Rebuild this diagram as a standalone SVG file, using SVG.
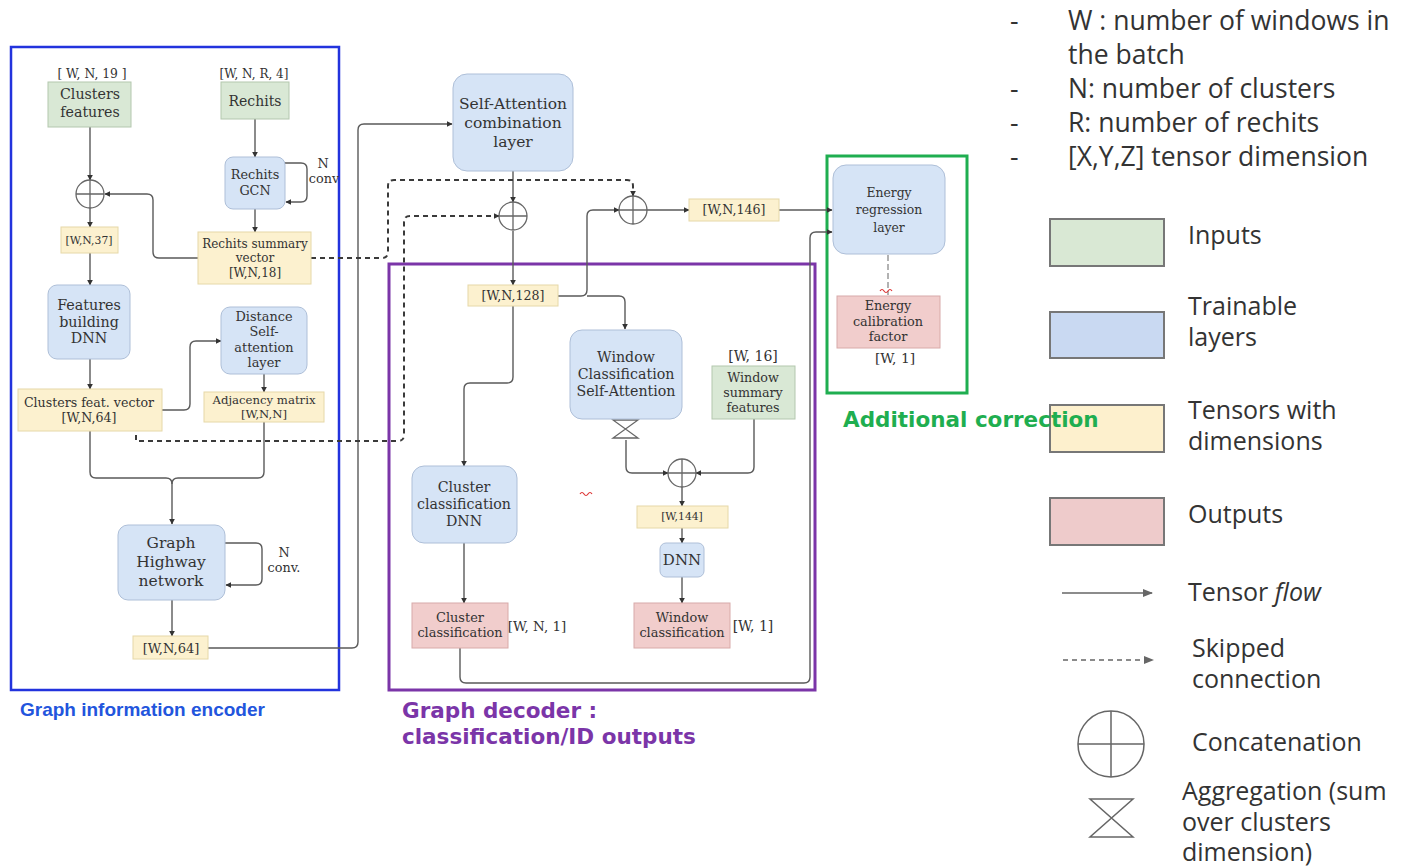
<svg xmlns="http://www.w3.org/2000/svg" width="1403" height="866" viewBox="0 0 1403 866">
<defs>
<marker id="ar" viewBox="0 0 10 10" refX="9" refY="5" markerWidth="6" markerHeight="6" markerUnits="userSpaceOnUse" orient="auto"><path d="M0 0L10 5L0 10Z" fill="#333"/></marker>
<marker id="arl" viewBox="0 0 10 10" refX="9" refY="5" markerWidth="10" markerHeight="10" markerUnits="userSpaceOnUse" orient="auto"><path d="M0 1L10 5L0 9Z" fill="#666"/></marker>
</defs>
<style>
.t{font-family:"DejaVu Serif",serif;fill:#333;text-anchor:middle}
.g{fill:#d9e8d5;stroke:#b3c7ae;stroke-width:1}
.b{fill:#d6e4f6;stroke:#aebfd8;stroke-width:1}
.y{fill:#fcf1cf;stroke:#e6d8a8;stroke-width:1}
.p{fill:#f1cdcc;stroke:#d8aaa9;stroke-width:1}
.c{fill:none;stroke:#5a5a5a;stroke-width:1.4}
.d{fill:none;stroke:#3a3a3a;stroke-width:2;stroke-dasharray:5 4}
.cat{fill:#fff;stroke:#666;stroke-width:1.3}
.L{font-family:"Open Sans","Noto Sans",sans-serif;fill:#333;font-size:25px}
.LT{font-family:"Open Sans","Noto Sans",sans-serif;fill:#333;font-size:26.5px}
.lb{stroke:#777;stroke-width:2}
</style>
<rect width="1403" height="866" fill="#fff"/>

<!-- group frames -->
<g id="encoder-frame">
<rect x="11" y="47" width="328" height="643" fill="none" stroke="#2233dd" stroke-width="2.5"/>
<text x="20" y="716" font-family="Liberation Sans,Arial,sans-serif" font-weight="bold" font-size="19" fill="#2255dd">Graph information encoder</text>
</g>
<g id="decoder-frame">
<rect x="389" y="264" width="426" height="426" fill="none" stroke="#7b35a8" stroke-width="3"/>
<text x="402" y="718" font-family="DejaVu Sans,sans-serif" font-weight="bold" font-size="21.5" fill="#7b35a8">Graph decoder :</text>
<text x="402" y="744" font-family="DejaVu Sans,sans-serif" font-weight="bold" font-size="21.5" fill="#7b35a8">classification/ID outputs</text>
</g>
<g id="correction-frame">
<rect x="827" y="156" width="140" height="237" fill="none" stroke="#1fae50" stroke-width="3"/>
</g>

<!-- connectors -->
<g id="connectors">
<path class="c" d="M90 127V180" marker-end="url(#ar)"/>
<path class="c" d="M90 208V227" marker-end="url(#ar)"/>
<path class="c" d="M90 253V285" marker-end="url(#ar)"/>
<path class="c" d="M90 359V389" marker-end="url(#ar)"/>
<path class="c" d="M255 119V157" marker-end="url(#ar)"/>
<path class="c" d="M255 209V232" marker-end="url(#ar)"/>
<path class="c" d="M285 163H301Q307 163 307 169V196Q307 202 301 202H286" marker-end="url(#ar)"/>
<path class="c" d="M198 258H159Q153 258 153 252V200Q153 194 147 194H105" marker-end="url(#ar)"/>
<path class="c" d="M162 410H184Q190 410 190 404V347Q190 341 196 341H221" marker-end="url(#ar)"/>
<path class="c" d="M264 374V392" marker-end="url(#ar)"/>
<path class="c" d="M90 431V472Q90 478 96 478H166Q172 478 172 484V524" marker-end="url(#ar)"/>
<path class="c" d="M264 422V472Q264 478 258 478H178Q172 478 172 484"/>
<path class="c" d="M225 543H256Q262 543 262 549V579Q262 585 256 585H226" marker-end="url(#ar)"/>
<path class="c" d="M172 600V636" marker-end="url(#ar)"/>
<path class="c" d="M208 648H352Q358 648 358 642V130Q358 124 364 124H452" marker-end="url(#ar)"/>
<path class="c" d="M513 171V202" marker-end="url(#ar)"/>
<path class="c" d="M513 231V285" marker-end="url(#ar)"/>
<path class="c" d="M558 296H581Q587 296 587 290V216Q587 210 593 210H619" marker-end="url(#ar)"/>
<path class="c" d="M587 296H619Q625 296 625 302V329" marker-end="url(#ar)"/>
<path class="c" d="M647 210H689" marker-end="url(#ar)"/>
<path class="c" d="M779 210H832" marker-end="url(#ar)"/>
<path class="c" d="M513 306V377Q513 383 507 383H470Q464 383 464 389V466" marker-end="url(#ar)"/>
<path class="c" d="M464 543V603" marker-end="url(#ar)"/>
<path class="c" d="M460 648V677Q460 683 466 683H804Q810 683 810 677V238Q810 232 816 232H832" marker-end="url(#ar)"/>
<path class="c" d="M626 440V467Q626 473 632 473H668" marker-end="url(#ar)"/>
<path class="c" d="M754 419V467Q754 473 748 473H696" marker-end="url(#ar)"/>
<path class="c" d="M682 487V506" marker-end="url(#ar)"/>
<path class="c" d="M682 528V543" marker-end="url(#ar)"/>
<path class="c" d="M682 577V603" marker-end="url(#ar)"/>
<path class="d" d="M136 435V441H398Q404 441 404 435V222Q404 216 410 216H499" marker-end="url(#ar)"/>
<path class="d" d="M311 258H382Q388 258 388 252V186Q388 180 394 180H627Q633 180 633 186V196" marker-end="url(#ar)"/>
<path d="M888 255V295" fill="none" stroke="#999" stroke-width="1.5" stroke-dasharray="6 3"/>
<path d="M880 291q2-3 4 0t4 0t4 0" fill="none" stroke="#d33" stroke-width="1.2"/>
<path d="M580 494q2-3 4 0t4 0t4 0" fill="none" stroke="#d33" stroke-width="1.2"/>
</g>

<!-- concatenation / aggregation symbols -->
<g id="concat1"><circle class="cat" cx="90" cy="194" r="14"/><path class="cat" d="M76 194H104M90 180V208"/></g>
<g id="concat2"><circle class="cat" cx="513" cy="216" r="14"/><path class="cat" d="M499 216H527M513 202V230"/></g>
<g id="concat3"><circle class="cat" cx="633" cy="210" r="14"/><path class="cat" d="M619 210H647M633 196V224"/></g>
<g id="concat4"><circle class="cat" cx="682" cy="473" r="14"/><path class="cat" d="M668 473H696M682 459V487"/></g>
<g id="aggregation"><path d="M613 420H638L613 438H638Z" fill="#fff" stroke="#666" stroke-width="1.3"/></g>

<!-- nodes -->
<g id="clusters-features">
<text class="t" x="92" y="78" font-size="12.3">[ W, N, 19 ]</text>
<rect class="g" x="48" y="82" width="83" height="45"/>
<text class="t" x="90" y="99" font-size="14.2">Clusters</text>
<text class="t" x="90" y="117" font-size="14.2">features</text>
</g>
<g id="rechits">
<text class="t" x="254" y="78" font-size="12">[W, N, R, 4]</text>
<rect class="g" x="221" y="82" width="68" height="37"/>
<text class="t" x="255" y="106" font-size="14">Rechits</text>
</g>
<g id="rechits-gcn">
<rect class="b" x="225" y="157" width="60" height="52" rx="8"/>
<text class="t" x="255" y="179" font-size="12.8">Rechits</text>
<text class="t" x="255" y="195" font-size="12.8">GCN</text>
<text class="t" x="323" y="168" font-size="12.8">N</text>
<text class="t" x="324" y="183" font-size="12.8">conv</text>
</g>
<g id="wn37"><rect class="y" x="61" y="227" width="57" height="26"/><text class="t" x="89" y="244" font-size="10.8">[W,N,37]</text></g>
<g id="rechits-summary">
<rect class="y" x="198" y="232" width="113" height="52"/>
<text class="t" x="255" y="248" font-size="12">Rechits summary</text>
<text class="t" x="255" y="262" font-size="12">vector</text>
<text class="t" x="255" y="277" font-size="12">[W,N,18]</text>
</g>
<g id="features-dnn">
<rect class="b" x="48" y="285" width="82" height="74" rx="9"/>
<text class="t" x="89" y="310" font-size="14.3">Features</text>
<text class="t" x="89" y="327" font-size="14.3">building</text>
<text class="t" x="89" y="343" font-size="14.3">DNN</text>
</g>
<g id="distance-sa">
<rect class="b" x="221" y="307" width="86" height="67" rx="9"/>
<text class="t" x="264" y="321" font-size="12.9">Distance</text>
<text class="t" x="264" y="336" font-size="12.9">Self-</text>
<text class="t" x="264" y="352" font-size="12.9">attention</text>
<text class="t" x="264" y="367" font-size="12.9">layer</text>
</g>
<g id="clusters-feat-vector">
<rect class="y" x="18" y="389" width="144" height="42"/>
<text class="t" x="89" y="407" font-size="12.6">Clusters feat. vector</text>
<text class="t" x="89" y="422" font-size="12.6">[W,N,64]</text>
</g>
<g id="adjacency">
<rect class="y" x="204" y="392" width="120" height="30"/>
<text class="t" x="264" y="404" font-size="11.7">Adjacency matrix</text>
<text class="t" x="264" y="418" font-size="11.7">[W,N,N]</text>
</g>
<g id="graph-highway">
<rect class="b" x="118" y="525" width="107" height="75" rx="10"/>
<text class="t" x="171" y="548" font-size="15.5">Graph</text>
<text class="t" x="171" y="567" font-size="15.5">Highway</text>
<text class="t" x="171" y="586" font-size="15.5">network</text>
<text class="t" x="284" y="557" font-size="12.8">N</text>
<text class="t" x="284" y="572" font-size="12.8">conv.</text>
</g>
<g id="wn64"><rect class="y" x="133" y="636" width="75" height="23"/><text class="t" x="171" y="653" font-size="13">[W,N,64]</text></g>
<g id="self-attention-comb">
<rect class="b" x="453" y="74" width="120" height="97" rx="14"/>
<text class="t" x="513" y="109" font-size="15.5">Self-Attention</text>
<text class="t" x="513" y="128" font-size="15.5">combination</text>
<text class="t" x="513" y="147" font-size="15.5">layer</text>
</g>
<g id="wn128"><rect class="y" x="468" y="285" width="90" height="21"/><text class="t" x="513" y="300" font-size="12.6">[W,N,128]</text></g>
<g id="wn146"><rect class="y" x="689" y="199" width="90" height="22"/><text class="t" x="734" y="214" font-size="12.6">[W,N,146]</text></g>
<g id="energy-regression">
<rect class="b" x="833" y="165" width="112" height="89" rx="13"/>
<text class="t" x="889" y="197" font-size="12.4">Energy</text>
<text class="t" x="889" y="214" font-size="12.4">regression</text>
<text class="t" x="889" y="232" font-size="12.4">layer</text>
</g>
<g id="energy-calibration">
<rect class="p" x="837" y="296" width="103" height="52"/>
<text class="t" x="888" y="310" font-size="12.8">Energy</text>
<text class="t" x="888" y="326" font-size="12.8">calibration</text>
<text class="t" x="888" y="341" font-size="12.8">factor</text>
<text class="t" x="895" y="363" font-size="13.8">[W, 1]</text>
</g>
<g id="window-class-sa">
<rect class="b" x="570" y="330" width="112" height="89" rx="12"/>
<text class="t" x="626" y="362" font-size="14.2">Window</text>
<text class="t" x="626" y="379" font-size="14.2">Classification</text>
<text class="t" x="626" y="396" font-size="14.2">Self-Attention</text>
</g>
<g id="window-summary">
<text class="t" x="753" y="361" font-size="14">[W, 16]</text>
<rect class="g" x="712" y="366" width="83" height="53"/>
<text class="t" x="753" y="382" font-size="12.7">Window</text>
<text class="t" x="753" y="397" font-size="12.7">summary</text>
<text class="t" x="753" y="412" font-size="12.7">features</text>
</g>
<g id="w144"><rect class="y" x="637" y="506" width="91" height="22"/><text class="t" x="682" y="520" font-size="10.8">[W,144]</text></g>
<g id="dnn"><rect class="b" x="660" y="543" width="44" height="34" rx="6"/><text class="t" x="682" y="565" font-size="15">DNN</text></g>
<g id="window-classification">
<rect class="p" x="634" y="603" width="96" height="45"/>
<text class="t" x="682" y="622" font-size="12.9">Window</text>
<text class="t" x="682" y="637" font-size="12.9">classification</text>
<text class="t" x="753" y="631" font-size="14">[W, 1]</text>
</g>
<g id="cluster-class-dnn">
<rect class="b" x="412" y="466" width="105" height="77" rx="12"/>
<text class="t" x="464" y="492" font-size="14.2">Cluster</text>
<text class="t" x="464" y="509" font-size="14.2">classification</text>
<text class="t" x="464" y="526" font-size="14.2">DNN</text>
</g>
<g id="cluster-classification">
<rect class="p" x="412" y="603" width="96" height="45"/>
<text class="t" x="460" y="622" font-size="12.9">Cluster</text>
<text class="t" x="460" y="637" font-size="12.9">classification</text>
<text class="t" x="537" y="631" font-size="13.4">[W, N, 1]</text>
</g>

<!-- legend -->
<g id="legend">
<text class="LT" x="1010" y="30">-</text>
<text class="LT" x="1068" y="30">W : number of windows in</text>
<text class="LT" x="1068" y="64">the batch</text>
<text class="LT" x="1010" y="98">-</text>
<text class="LT" x="1068" y="98">N: number of clusters</text>
<text class="LT" x="1010" y="132">-</text>
<text class="LT" x="1068" y="132">R: number of rechits</text>
<text class="LT" x="1010" y="166">-</text>
<text class="LT" x="1068" y="166">[X,Y,Z] tensor dimension</text>
<rect class="lb" x="1050" y="219" width="114" height="47" fill="#d9e8d4"/>
<text class="L" x="1188" y="244">Inputs</text>
<rect class="lb" x="1050" y="312" width="114" height="46" fill="#c9d9f2"/>
<text class="L" x="1188" y="315">Trainable</text>
<text class="L" x="1188" y="346">layers</text>
<rect class="lb" x="1050" y="405" width="114" height="47" fill="#fdf0cd"/>
<text class="L" x="1188" y="419">Tensors with</text>
<text class="L" x="1188" y="450">dimensions</text>
<rect class="lb" x="1050" y="498" width="114" height="47" fill="#eecbcb"/>
<text class="L" x="1188" y="523">Outputs</text>
<path d="M1062 593H1152" stroke="#666" stroke-width="1.5" marker-end="url(#arl)"/>
<text class="L" x="1188" y="601">Tensor <tspan font-style="italic">flow</tspan></text>
<path d="M1063 660H1153" stroke="#666" stroke-width="1.5" stroke-dasharray="5 4" marker-end="url(#arl)"/>
<text class="L" x="1192" y="657">Skipped</text>
<text class="L" x="1192" y="688">connection</text>
<circle cx="1111" cy="744" r="33" fill="none" stroke="#666" stroke-width="1.5"/>
<path d="M1078 744H1144M1111 711V777" stroke="#666" stroke-width="1.5"/>
<text class="L" x="1192" y="751">Concatenation</text>
<path d="M1090 799H1133L1090 837H1133Z" fill="none" stroke="#666" stroke-width="1.5"/>
<text class="L" x="1182" y="800">Aggregation (sum</text>
<text class="L" x="1182" y="831">over clusters</text>
<text class="L" x="1182" y="861">dimension)</text>
</g>
<g id="correction-label">
<text x="843" y="427" font-family="DejaVu Sans,sans-serif" font-weight="bold" font-size="21.5" fill="#1fae50">Additional correction</text>
</g>
</svg>
